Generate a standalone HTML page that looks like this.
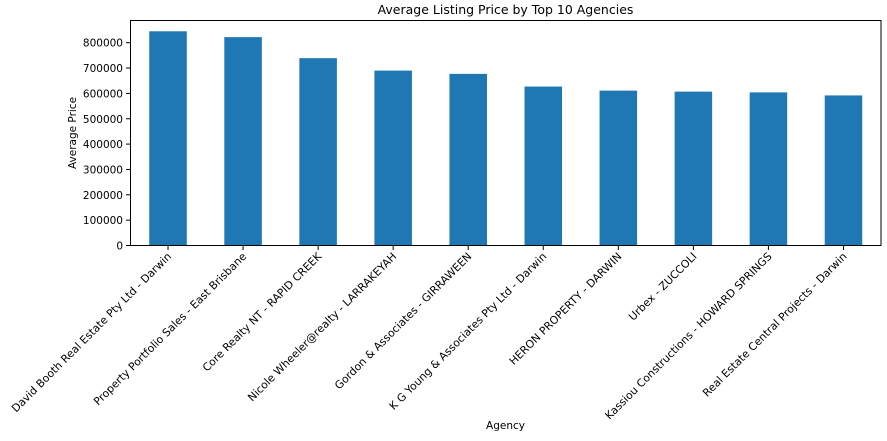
<!DOCTYPE html>
<html><head><meta charset="utf-8"><style>
body{margin:0;background:#fff}
svg text{font-family:"DejaVu Sans","Liberation Sans",sans-serif;fill:#000}
</style></head><body>
<svg id="chart" width="887" height="436">
<text x="505.5" y="14" font-size="12.5" text-anchor="middle">Average Listing Price by Top 10 Agencies</text>
<text x="505.5" y="429" font-size="10.5" text-anchor="middle">Agency</text>
<text transform="translate(76,133) rotate(-90)" font-size="10.5" text-anchor="middle">Average Price</text>
<g id="bars"></g><g id="yticks"></g><g id="xticks"></g>
<rect x="130.5" y="20.5" width="750.5" height="225" fill="none" stroke="#000" stroke-width="1"/>
</svg>
<script>
const categories=["David Booth Real Estate Pty Ltd - Darwin","Property Portfolio Sales - East Brisbane","Core Realty NT - RAPID CREEK","Nicole Wheeler@realty - LARRAKEYAH","Gordon & Associates - GIRRAWEEN","K G Young & Associates Pty Ltd - Darwin","HERON PROPERTY - DARWIN","Urbex - ZUCCOLI","Kassiou Constructions - HOWARD SPRINGS","Real Estate Central Projects - Darwin"];
const values=[845000,822000,739000,690000,677000,627000,611000,607000,604000,592000];
const yTicks=[0,100000,200000,300000,400000,500000,600000,700000,800000];
const L=130.5,R=881,B=245.5,pxPer=25.35/100000;
const ns="http://www.w3.org/2000/svg";
const y=v=>B-v*pxPer;
const step=(R-L)/categories.length;
const x=i=>L+step*(i+0.5);
const bars=document.getElementById('bars'),yt=document.getElementById('yticks'),xt=document.getElementById('xticks');
values.forEach((v,i)=>{
 const r=document.createElementNS(ns,'rect');
 r.setAttribute('x',x(i)-step*0.25);r.setAttribute('width',step*0.5);
 r.setAttribute('y',y(v));r.setAttribute('height',B-y(v));r.setAttribute('fill','#1f77b4');
 
 
 bars.appendChild(r);
});
yTicks.forEach(v=>{
 const l=document.createElementNS(ns,'line');
 l.setAttribute('x1',L-4.5);l.setAttribute('x2',L);l.setAttribute('y1',y(v));l.setAttribute('y2',y(v));l.setAttribute('stroke','#000');
 
 
 yt.appendChild(l);
 const t=document.createElementNS(ns,'text');
 t.setAttribute('x',L-7.5);t.setAttribute('y',y(v)+4);t.setAttribute('font-size','10.5');t.setAttribute('text-anchor','end');
 t.textContent=v;
 
 
 yt.appendChild(t);
});
categories.forEach((c,i)=>{
 const l=document.createElementNS(ns,'line');
 l.setAttribute('x1',x(i));l.setAttribute('x2',x(i));l.setAttribute('y1',245.5);l.setAttribute('y2',250);l.setAttribute('stroke','#000');
 
 
 xt.appendChild(l);
 const t=document.createElementNS(ns,'text');
 t.setAttribute('font-size','10.8');t.setAttribute('text-anchor','end');
 t.setAttribute('transform','translate('+(x(i)+4)+',257) rotate(-45)');
 t.textContent=c;
 
 
 xt.appendChild(t);
});
</script>
</body></html>
